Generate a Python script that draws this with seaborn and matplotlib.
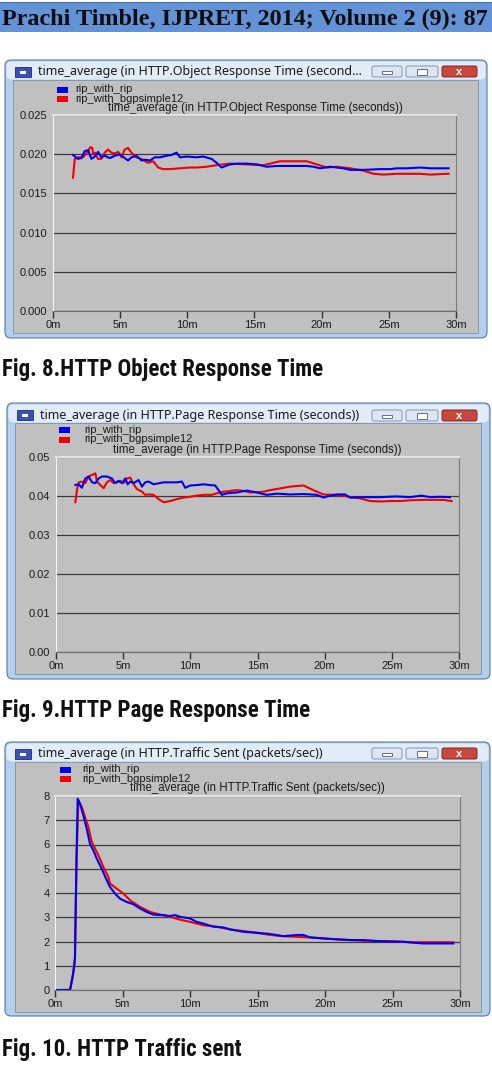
import numpy as np
import pandas as pd
import matplotlib
matplotlib.use('Agg')
import matplotlib.pyplot as plt
from matplotlib.patches import Rectangle, FancyBboxPatch
import seaborn as sns

# --- DATA (minutes vs. value) ---
SERIES_RIP = 'rip_with_rip'
SERIES_BGP = 'rip_with_bgpsimple12'
X_TICKS = [0, 5, 10, 15, 20, 25, 30]
X_TICK_LABELS = ['0m', '5m', '10m', '15m', '20m', '25m', '30m']

# Fig. 8 - HTTP Object Response Time (seconds)
OBJ_YTICKS = [0.0, 0.005, 0.010, 0.015, 0.020, 0.025]
OBJ_YLABELS = ['0.000', '0.005', '0.010', '0.015', '0.020', '0.025']
OBJ_RIP_T = [1.49, 1.86, 2.11, 2.36, 2.61, 2.86, 3.11, 3.36, 3.60, 3.85,
             4.23, 4.60, 4.97, 5.34, 5.59, 5.84, 6.21, 6.59, 6.84, 7.21,
             7.58, 7.95, 8.45, 8.82, 9.20, 9.45, 9.94, 10.69, 11.18, 11.81,
             12.18, 12.55, 13.17, 13.79, 14.42, 15.16, 15.91, 16.65, 17.40, 18.14,
             18.89, 19.39, 19.88, 20.63, 21.62, 22.12, 23.11, 24.36, 25.10, 25.60,
             26.35, 27.34, 28.09, 29.45]
OBJ_RIP_V = [0.0199, 0.0194, 0.0195, 0.0204, 0.0205, 0.0194, 0.0197, 0.0203, 0.0196, 0.0198,
             0.0195, 0.0198, 0.0200, 0.0195, 0.0192, 0.0196, 0.0198, 0.0192, 0.0193, 0.0192,
             0.0196, 0.0196, 0.0198, 0.0199, 0.0202, 0.0196, 0.0197, 0.0196, 0.0197, 0.0194,
             0.0189, 0.0183, 0.0187, 0.0188, 0.0188, 0.0187, 0.0184, 0.0185, 0.0185, 0.0185,
             0.0185, 0.0184, 0.0182, 0.0184, 0.0182, 0.0180, 0.0180, 0.0181, 0.0181, 0.0182,
             0.0182, 0.0183, 0.0182, 0.0182]
OBJ_BGP_T = [1.49, 1.62, 1.86, 2.24, 2.61, 2.78, 2.93, 2.98, 3.11, 3.36,
             3.60, 3.85, 4.10, 4.35, 4.60, 4.85, 5.10, 5.34, 5.59, 5.84,
             6.21, 6.59, 6.84, 7.08, 7.46, 7.83, 8.20, 8.70, 9.44, 10.19,
             10.69, 11.43, 12.18, 13.17, 14.42, 15.66, 16.90, 18.14, 18.89, 19.64,
             20.38, 21.13, 22.12, 23.11, 23.86, 24.61, 25.60, 26.35, 27.34, 28.09,
             29.45]
OBJ_BGP_V = [0.0170, 0.0194, 0.0196, 0.0196, 0.0204, 0.0209, 0.0208, 0.0200, 0.0202, 0.0194,
             0.0194, 0.0202, 0.0206, 0.0202, 0.0201, 0.0203, 0.0196, 0.0206, 0.0208, 0.0202,
             0.0196, 0.0194, 0.0191, 0.0189, 0.0191, 0.0183, 0.0181, 0.0181, 0.0182, 0.0183,
             0.0183, 0.0184, 0.0186, 0.0188, 0.0187, 0.0186, 0.0191, 0.0191, 0.0191, 0.0187,
             0.0183, 0.0184, 0.0182, 0.0179, 0.0175, 0.0174, 0.0175, 0.0175, 0.0175, 0.0174,
             0.0175]

# Fig. 9 - HTTP Page Response Time (seconds)
PAGE_YTICKS = [0.0, 0.01, 0.02, 0.03, 0.04, 0.05]
PAGE_YLABELS = ['0.00', '0.01', '0.02', '0.03', '0.04', '0.05']
PAGE_RIP_T = [1.44, 1.69, 1.93, 2.18, 2.43, 2.68, 2.93, 3.17, 3.42, 3.79,
              4.16, 4.41, 4.66, 4.91, 5.16, 5.33, 5.53, 5.78, 6.15, 6.40,
              6.64, 6.89, 7.26, 8.01, 9.00, 9.37, 9.62, 9.99, 10.49, 10.98,
              11.48, 11.85, 12.10, 12.35, 12.72, 13.46, 14.20, 14.95, 15.69, 16.44,
              17.43, 18.42, 19.41, 19.91, 20.40, 20.90, 21.52, 21.89, 22.88, 24.12,
              25.36, 26.35, 27.22, 27.84, 28.58, 29.33]
PAGE_RIP_V = [0.0428, 0.0430, 0.0421, 0.0445, 0.0450, 0.0435, 0.0433, 0.0445, 0.0450, 0.0450,
              0.0445, 0.0433, 0.0439, 0.0433, 0.0445, 0.0430, 0.0437, 0.0433, 0.0441, 0.0424,
              0.0435, 0.0437, 0.0430, 0.0435, 0.0435, 0.0437, 0.0421, 0.0427, 0.0428, 0.0430,
              0.0428, 0.0427, 0.0415, 0.0403, 0.0407, 0.0409, 0.0414, 0.0409, 0.0403, 0.0406,
              0.0404, 0.0405, 0.0403, 0.0396, 0.0401, 0.0404, 0.0404, 0.0396, 0.0397, 0.0397,
              0.0399, 0.0397, 0.0401, 0.0397, 0.0398, 0.0397]
PAGE_BGP_T = [1.44, 1.56, 1.69, 1.93, 2.18, 2.43, 2.68, 2.93, 3.05, 3.30,
              3.55, 3.79, 4.04, 4.29, 4.54, 4.78, 5.03, 5.28, 5.53, 5.78,
              6.02, 6.40, 6.64, 6.89, 7.26, 7.64, 8.01, 8.50, 9.00, 9.49,
              9.99, 10.49, 10.98, 11.60, 11.97, 12.47, 12.97, 13.46, 13.96, 14.45,
              15.44, 15.94, 16.44, 17.43, 18.42, 19.16, 19.91, 20.65, 21.39, 21.89,
              22.63, 23.38, 24.12, 24.86, 25.61, 26.35, 27.34, 28.09, 28.83, 29.45]
PAGE_BGP_V = [0.0384, 0.0415, 0.0435, 0.0437, 0.0433, 0.0450, 0.0454, 0.0458, 0.0437, 0.0428,
              0.0420, 0.0435, 0.0441, 0.0433, 0.0435, 0.0439, 0.0433, 0.0445, 0.0447, 0.0430,
              0.0418, 0.0411, 0.0403, 0.0404, 0.0403, 0.0392, 0.0384, 0.0387, 0.0392, 0.0396,
              0.0398, 0.0401, 0.0403, 0.0403, 0.0407, 0.0411, 0.0413, 0.0415, 0.0413, 0.0409,
              0.0411, 0.0415, 0.0418, 0.0424, 0.0427, 0.0415, 0.0404, 0.0403, 0.0401, 0.0397,
              0.0394, 0.0387, 0.0386, 0.0387, 0.0387, 0.0389, 0.0390, 0.0390, 0.0390, 0.0387]

# Fig. 10 - HTTP Traffic Sent (packets/sec)
TRAF_YTICKS = [0, 1, 2, 3, 4, 5, 6, 7, 8]
TRAF_YLABELS = ['0', '1', '2', '3', '4', '5', '6', '7', '8']
TRAF_RIP_T = [0.0, 1.11, 1.23, 1.36, 1.43, 1.48, 1.53, 1.60, 1.68, 1.85,
              2.10, 2.35, 2.59, 2.84, 3.09, 3.46, 3.83, 4.07, 4.44, 4.81,
              5.31, 5.80, 6.30, 6.79, 7.28, 8.02, 8.52, 8.89, 9.26, 10.00,
              10.49, 10.99, 11.73, 12.47, 12.96, 13.95, 14.94, 15.93, 16.91, 17.90,
              18.39, 18.89, 19.88, 20.86, 21.85, 22.84, 23.83, 24.81, 25.80, 26.54,
              27.28, 28.27, 29.50]
TRAF_RIP_V = [0.0, 0.0, 0.34, 0.75, 1.03, 1.37, 3.29, 5.62, 7.89, 7.68,
              7.20, 6.65, 6.03, 5.76, 5.42, 5.00, 4.53, 4.25, 3.98, 3.77,
              3.63, 3.54, 3.36, 3.22, 3.11, 3.09, 3.05, 3.09, 3.02, 2.95,
              2.81, 2.74, 2.61, 2.58, 2.50, 2.40, 2.36, 2.31, 2.22, 2.27,
              2.27, 2.17, 2.13, 2.09, 2.06, 2.06, 2.02, 2.00, 1.99, 1.95,
              1.92, 1.92, 1.92]
TRAF_BGP_T = [0.0, 1.11, 1.23, 1.36, 1.48, 1.60, 1.73, 1.98, 2.22, 2.47,
              2.72, 2.96, 3.21, 3.58, 3.95, 4.07, 4.57, 5.06, 5.56, 6.30,
              7.04, 7.78, 8.52, 9.26, 10.00, 10.99, 11.98, 12.96, 13.95, 14.94,
              15.93, 16.91, 17.90, 18.89, 19.88, 20.86, 21.85, 22.84, 24.07, 25.31,
              26.54, 27.78, 29.50]
TRAF_BGP_V = [0.0, 0.0, 0.30, 0.70, 1.30, 5.50, 7.82, 7.55, 7.14, 6.73,
              6.11, 5.84, 5.56, 5.08, 4.67, 4.39, 4.18, 3.98, 3.70, 3.43,
              3.22, 3.11, 3.02, 2.90, 2.81, 2.67, 2.61, 2.50, 2.43, 2.36,
              2.27, 2.22, 2.19, 2.17, 2.12, 2.09, 2.06, 2.03, 2.02, 2.00,
              1.97, 1.97, 1.97]

# --- LAYOUT (page pixels, y grows downward) ---
W, H = 492, 1076
PALETTE = {SERIES_RIP: '#0000F0', SERIES_BGP: '#F00000'}
UI_FONT = ['Liberation Sans', 'DejaVu Sans']
CAPTION_FONT = ['Roboto Condensed', 'Lato', 'DejaVu Sans']
BODY_GREY = '#C0C0C0'

PANELS = [
    dict(win=(5, 60, 487, 338), body=(13, 80, 478, 333), ax=(53, 115, 456, 311),
         title='time_average (in HTTP.Object Response Time (second...',
         subtitle='time_average (in HTTP.Object Response Time (seconds))',
         leg=(57, 75, 89.5, 98.5, 107.5, 255), btn_y=66,
         caption='Fig. 8.HTTP Object Response Time', cap_y=376),
    dict(win=(7, 403, 490, 679), body=(15, 423, 481, 674), ax=(56, 457, 459, 652),
         title='time_average (in HTTP.Page Response Time (seconds))',
         subtitle='time_average (in HTTP.Page Response Time (seconds))',
         leg=(59, 84, 430, 439.5, 450, 257), btn_y=410,
         caption='Fig. 9.HTTP Page Response Time', cap_y=717),
    dict(win=(5, 742, 490, 1016), body=(15, 762, 481, 1012), ax=(55, 796, 460, 990),
         title='time_average (in HTTP.Traffic Sent (packets/sec))',
         subtitle='time_average (in HTTP.Traffic Sent (packets/sec))',
         leg=(60, 82, 769.5, 779, 788, 257), btn_y=748,
         caption='Fig. 10. HTTP Traffic sent', cap_y=1056),
]


def px_axes(fig, box):
    x0, y0, x1, y1 = box
    return fig.add_axes([x0 / W, 1 - y1 / H, (x1 - x0) / W, (y1 - y0) / H])


def draw_window(bg, p):
    x0, y0, x1, y1 = p['win']
    bx0, by0, bx1, by1 = p['body']
    # glass frame + title bar
    bg.add_patch(FancyBboxPatch((x0, y0), x1 - x0, y1 - y0,
                                boxstyle='round,pad=0,rounding_size=6',
                                fc='#B3CFEE', ec='#5E7A99', lw=0.8))
    bg.add_patch(FancyBboxPatch((x0 + 1.5, y0 + 1.5), x1 - x0 - 3, by0 - y0 - 2,
                                boxstyle='round,pad=0,rounding_size=5',
                                fc='#E2ECF7', ec='none'))
    bg.add_patch(Rectangle((bx0, by0), bx1 - bx0, by1 - by0,
                           fc=BODY_GREY, ec='#8597AD', lw=0.7))
    ty = y0 + 12
    # window icon
    bg.add_patch(Rectangle((x0 + 10, ty - 5), 16, 10, fc='#3A4FB8', ec='#1E2C70', lw=0.6))
    bg.add_patch(Rectangle((x0 + 15, ty - 1.5), 6, 3, fc='white', ec='none'))
    bg.text(x0 + 33, ty, p['title'], fontsize=9.0, family=['Noto Sans', 'DejaVu Sans'],
            color='#1A1A1A', va='center', ha='left')
    # caption buttons
    by = p['btn_y']
    for bxa, bxb, kind in [(372, 402, 'min'), (406, 438, 'max'), (442, 477, 'close')]:
        fc = '#C9473E' if kind == 'close' else '#DDE7F3'
        ec = '#7A2A25' if kind == 'close' else '#8094AC'
        bg.add_patch(FancyBboxPatch((bxa, by), bxb - bxa, 11,
                                    boxstyle='round,pad=0,rounding_size=2',
                                    fc=fc, ec=ec, lw=0.7))
        cx = (bxa + bxb) / 2
        if kind == 'min':
            bg.add_patch(Rectangle((cx - 5, by + 5), 10, 2.5, fc='white', ec='#4A5A70', lw=0.6))
        elif kind == 'max':
            bg.add_patch(Rectangle((cx - 5, by + 3), 10, 5.5, fc='white', ec='#4A5A70', lw=0.6))
        else:
            bg.text(cx, by + 5.8, 'x', color='white', fontsize=8, fontweight='bold',
                    ha='center', va='center', family=UI_FONT)
    # legend + subtitle
    sq_x, txt_x, yb, yr, ysub, xsub = p['leg']
    for yy, name in [(yb, SERIES_RIP), (yr, SERIES_BGP)]:
        bg.add_patch(Rectangle((sq_x, yy - 3), 11, 6, fc=PALETTE[name], ec='none'))
        bg.text(txt_x, yy, name, fontsize=8.0, family=UI_FONT, color='#1A1A1A',
                va='center', ha='left')
    bg.text(xsub, ysub, p['subtitle'], fontsize=8.3, family=UI_FONT, color='#1A1A1A',
            va='center', ha='center')
    bg.text(2, p['cap_y'], p['caption'], fontsize=16.5, fontweight='bold',
            family=CAPTION_FONT, color='#111111', va='baseline', ha='left')


def draw_chart(ax, rip_t, rip_v, bgp_t, bgp_v, yticks, ylabels):
    df = pd.concat([
        pd.DataFrame({'minutes': bgp_t, 'value': bgp_v, 'series': SERIES_BGP}),
        pd.DataFrame({'minutes': rip_t, 'value': rip_v, 'series': SERIES_RIP}),
    ], ignore_index=True)
    sns.lineplot(data=df, x='minutes', y='value', hue='series',
                 hue_order=[SERIES_BGP, SERIES_RIP], palette=PALETTE,
                 estimator=None, sort=False, linewidth=1.5, legend=False, ax=ax)
    ax.set_facecolor(BODY_GREY)
    ax.set_xlim(0, 30)
    ax.set_ylim(yticks[0], yticks[-1])
    ax.set_xticks(X_TICKS)
    ax.set_xticklabels(X_TICK_LABELS)
    ax.set_yticks(yticks)
    ax.set_yticklabels(ylabels)
    ax.set_xlabel('')
    ax.set_ylabel('')
    ax.tick_params(axis='x', direction='out', length=5, width=1, color='#303030',
                   pad=1.5, labelsize=8, labelcolor='#1A1A1A')
    ax.tick_params(axis='y', length=0, pad=4, labelsize=8, labelcolor='#1A1A1A')
    for lbl in ax.get_xticklabels() + ax.get_yticklabels():
        lbl.set_family(UI_FONT)
    ax.grid(axis='y', color='#3A3A3A', linewidth=0.9)
    ax.grid(axis='x', visible=False)
    ax.set_axisbelow(True)
    ax.spines['left'].set_color('#F4F4F4')
    ax.spines['top'].set_color('#E2E2E2')
    ax.spines['top'].set_linewidth(1.6)
    ax.spines['right'].set_color('#7A7A7A')
    ax.spines['bottom'].set_color('#6E6E6E')
    for s in ax.spines.values():
        s.set_visible(True)


def main():
    fig = plt.figure(figsize=(W / 100, H / 100), dpi=100)
    fig.patch.set_facecolor('white')
    bg = fig.add_axes([0, 0, 1, 1])
    bg.set_xlim(0, W)
    bg.set_ylim(H, 0)
    bg.axis('off')

    # journal running header
    bg.add_patch(Rectangle((0, 2), W, 30, fc='#6393D6', ec='none'))
    bg.add_patch(Rectangle((0, 2), W, 1.2, fc='#3C69AE', ec='none'))
    bg.text(2, 25, 'Prachi Timble, IJPRET, 2014; Volume 2 (9): 87', fontsize=17.4,
            fontweight='bold', family=['Liberation Serif', 'DejaVu Serif'],
            color='#0D0D0D', ha='left', va='baseline')

    series = [
        (OBJ_RIP_T, OBJ_RIP_V, OBJ_BGP_T, OBJ_BGP_V, OBJ_YTICKS, OBJ_YLABELS),
        (PAGE_RIP_T, PAGE_RIP_V, PAGE_BGP_T, PAGE_BGP_V, PAGE_YTICKS, PAGE_YLABELS),
        (TRAF_RIP_T, TRAF_RIP_V, TRAF_BGP_T, TRAF_BGP_V, TRAF_YTICKS, TRAF_YLABELS),
    ]
    for p, s in zip(PANELS, series):
        draw_window(bg, p)
        ax = px_axes(fig, p['ax'])
        draw_chart(ax, *s)

    fig.savefig('out.png', dpi=100)


if __name__ == '__main__':
    main()
